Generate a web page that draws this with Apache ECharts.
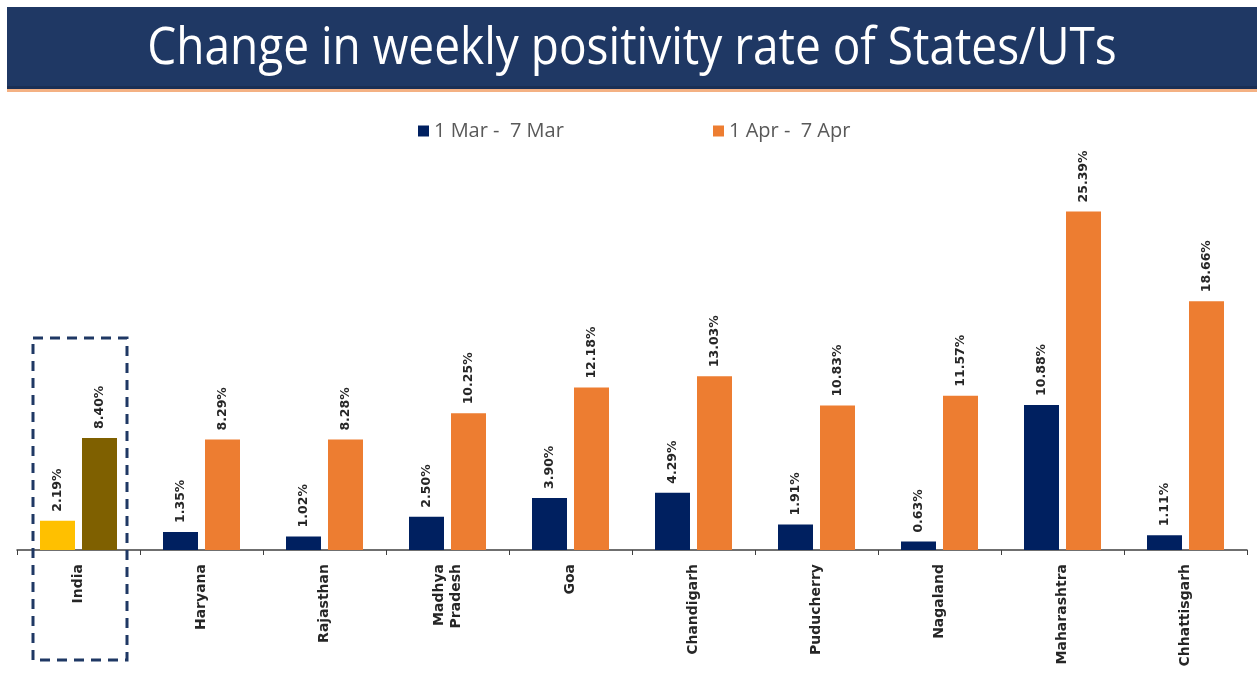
<!DOCTYPE html>
<html><head><meta charset="utf-8">
<script src="https://cdn.jsdelivr.net/npm/echarts@6/dist/echarts.min.js"></script>
<style>html,body{margin:0;padding:0;background:#fff}#c{width:1257px;height:677px}</style>
</head><body><div id="c"></div>
<script>
const titleText = 'Change in weekly positivity rate of States/UTs';
const categories = ['India','Haryana','Rajasthan','Madhya\nPradesh','Goa','Chandigarh','Puducherry','Nagaland','Maharashtra','Chhattisgarh'];
const seriesNames = ['1 Mar -  7 Mar','1 Apr -  7 Apr'];
const marValues = [2.19,1.35,1.02,2.50,3.90,4.29,1.91,0.63,10.88,1.11];
const aprValues = [8.40,8.29,8.28,10.25,12.18,13.03,10.83,11.57,25.39,18.66];

const NAVY='#002060', ORANGE='#ED7D31', INDIA1='#FFC000', INDIA2='#7F6000';
const chart = echarts.init(document.getElementById('c'));
const lbl = {show:true, position:'top', rotate:90, align:'left', verticalAlign:'middle', distance:9,
  color:'#262626', fontWeight:'bold', fontSize:12.5, fontFamily:'"DejaVu Sans", sans-serif',
  formatter: p => p.value.toFixed(2)+'%'};
const legendText = {color:'#595959', fontSize:20, fontFamily:'"Open Sans", sans-serif'};
chart.setOption({
  animation:false,
  graphic:[
    {type:'rect', shape:{x:7,y:7,width:1250,height:79}, style:{fill:'#1F3864'}, z:0},
    {type:'rect', shape:{x:7,y:86,width:1250,height:3}, style:{fill:'#1A2F55'}, z:0},
    {type:'rect', shape:{x:7,y:89,width:1250,height:3}, style:{fill:'#F4B183'}, z:0},
    {type:'text', x:632, y:50, originX:0, originY:0, scaleY:1.1,
     style:{text:titleText, fill:'#fff', fontSize:46, fontFamily:'"Open Sans", sans-serif', textAlign:'center', textVerticalAlign:'middle'}, z:1},
    {type:'rect', shape:{x:33,y:338,width:94,height:322}, style:{fill:'none', stroke:'#1F3864', lineWidth:3, lineDash:[10,7]}, z:10}
  ],
  legend:[
    {top:116, left:413, itemWidth:11, itemHeight:11, icon:'rect', itemGap:4, textStyle:legendText, data:[seriesNames[0]]},
    {top:116, left:708, itemWidth:11, itemHeight:11, icon:'rect', itemGap:4, textStyle:legendText, data:[seriesNames[1]]}
  ],
  grid:{left:17, width:1230, top:150, bottom:127},
  xAxis:{type:'category', data:categories,
    axisLine:{lineStyle:{color:'#404040', width:1.5}},
    axisTick:{show:true, length:5, lineStyle:{color:'#404040'}},
    axisLabel:{rotate:90, interval:0, color:'#262626', fontWeight:'bold', fontSize:14, margin:14,
      fontFamily:'"DejaVu Sans", sans-serif', lineHeight:17}},
  yAxis:{type:'value', min:0, max:30, show:false, splitLine:{show:false}},
  series:[
    {name:seriesNames[0], type:'bar', barWidth:35, barGap:'20%', itemStyle:{color:NAVY},
     data: marValues.map((v,i)=> i===0 ? {value:v, itemStyle:{color:INDIA1}} : v), label:lbl},
    {name:seriesNames[1], type:'bar', barWidth:35, itemStyle:{color:ORANGE},
     data: aprValues.map((v,i)=> i===0 ? {value:v, itemStyle:{color:INDIA2}} : v), label:lbl}
  ]
});
</script></body></html>
